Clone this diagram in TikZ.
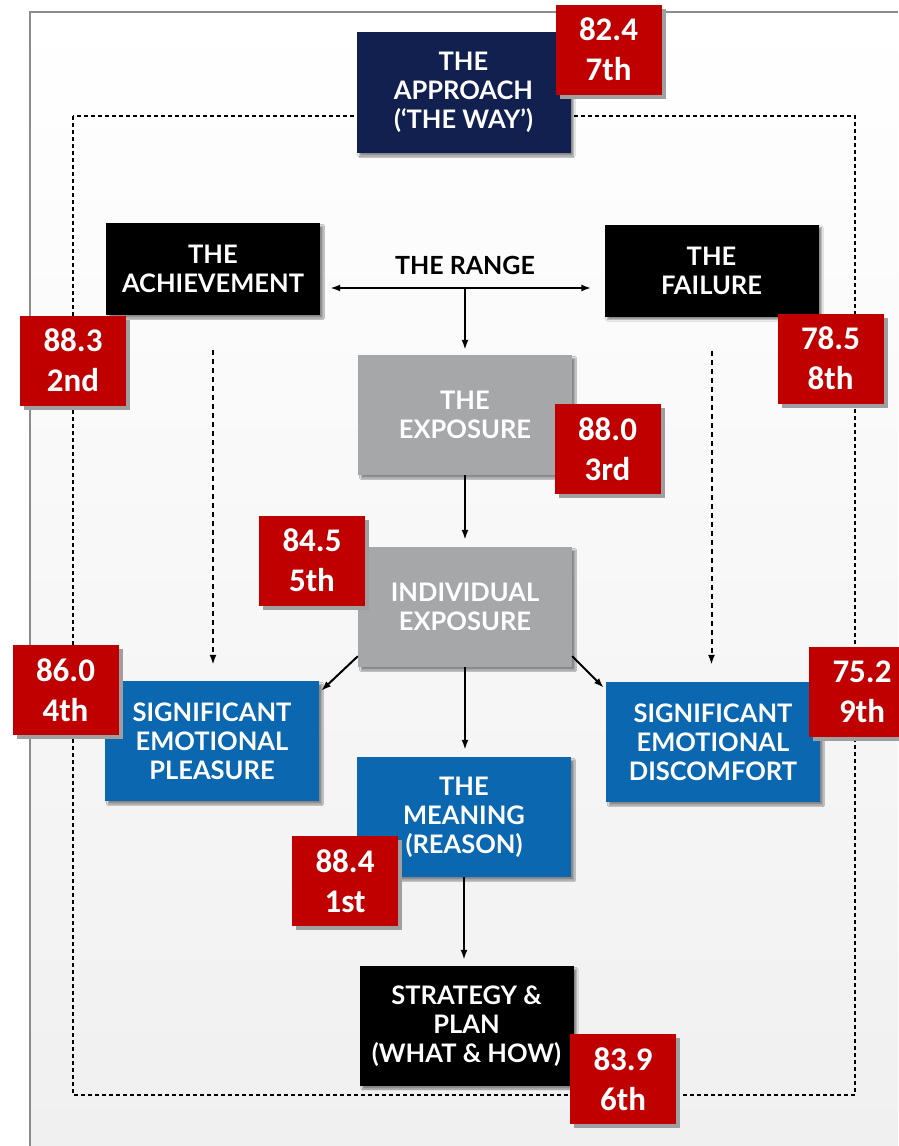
\documentclass[tikz,border=0pt]{standalone}
\usepackage{fontspec}
\usetikzlibrary{arrows.meta,calc,shadows,shadows.blur}
\newfontfamily\boxfont{Lato}
\newfontfamily\badgefont{Carlito}
\definecolor{navy}{HTML}{12204F}
\definecolor{stone}{HTML}{A6A7A9}
\definecolor{azure}{HTML}{0A67B0}
\definecolor{scorered}{HTML}{C00000}
\definecolor{bgmid}{HTML}{D9DADD}
\definecolor{bgbot}{HTML}{F0F0F0}
\definecolor{frameline}{HTML}{8C8C8C}
\tikzset{
  stage/.style={fill=#1,minimum width=214pt,minimum height=120pt,inner sep=0pt,align=center,text=white,
    font=\boxfont\bfseries\fontsize{25.5}{29}\selectfont,
    blur shadow={shadow xshift=3pt,shadow yshift=-3pt,shadow blur steps=4,shadow opacity=45}},
  badge/.style={fill=scorered,minimum width=106pt,minimum height=90pt,inner sep=0pt,align=center,text=white,
    font=\badgefont\bfseries\fontsize{33}{40}\selectfont,
    drop shadow={shadow xshift=4pt,shadow yshift=-4pt,fill=gray!75,opacity=1}},
  flow/.style={-{Latex[length=10pt,width=7pt]},line width=2pt,draw=black},
  biflow/.style={{Latex[length=10pt,width=7pt]}-{Latex[length=10pt,width=7pt]},line width=2pt,draw=black},
  softflow/.style={-{Latex[length=10pt,width=7pt]},line width=2pt,draw=black,dash pattern=on 5pt off 4pt},
  outline/.style={draw=black,line width=1.5pt,dash pattern=on 4pt off 3pt}
}
\begin{document}
\begin{tikzpicture}[x=1pt,y=-1pt]
  \useasboundingbox (0,0) rectangle (898,1146);
  \fill[white] (0,0) rectangle (898,1146);
  \shade[top color=white,middle color=bgmid,bottom color=bgbot] (30,12) rectangle (898,1146);
  \draw[frameline,line width=1.5pt] (30,1146) -- (30,12) -- (898,12);
  \draw[outline] (73,116) rectangle (855,1095);

  % stages
  \node[stage=navy,minimum height=121pt] (approach) at (463.5,92.5) {THE\\APPROACH\\(‘THE WAY’)};
  \node[stage=black,minimum height=92pt] (achieve) at (213,269) {THE\\ACHIEVEMENT};
  \node[stage=black,minimum height=92pt] (failure) at (711.5,270.5) {THE\\FAILURE};
  \node[font=\boxfont\bfseries\fontsize{25}{26}\selectfont] (range) at (465,265) {THE RANGE};
  \coordinate (rangej) at (465,288);
  \node[stage=stone] (exposure) at (465,415) {THE\\EXPOSURE};
  \node[stage=stone] (indiv) at (465,607) {INDIVIDUAL\\EXPOSURE};
  \node[stage=azure] (pleasure) at (212,741) {SIGNIFICANT\\EMOTIONAL\\PLEASURE};
  \node[stage=azure] (discomfort) at (713,742) {SIGNIFICANT\\EMOTIONAL\\DISCOMFORT};
  \node[stage=azure] (meaning) at (464,817) {THE\\MEANING\\(REASON)};
  \node[stage=black] (strategy) at (466.5,1026) {STRATEGY \&\\PLAN\\(WHAT \& HOW)};

  % connectors
  \draw[biflow] ([xshift=10pt]achieve.east |- rangej) -- ([xshift=-13pt]failure.west |- rangej);
  \draw[flow,shorten >=5pt] (rangej) -- (exposure.north);
  \draw[flow,shorten >=7pt] (exposure.south) -- (indiv.north);
  \draw[softflow,shorten <=35pt,shorten >=16pt] (achieve.south) -- (achieve.south |- pleasure.north);
  \draw[softflow,shorten <=34pt,shorten >=17pt] (failure.south) -- (failure.south |- discomfort.north);
  \draw[flow] ($(indiv.south west)+(0,-11)$) -- ($(pleasure.north east)+(2,10)$);
  \draw[flow] ($(indiv.south east)+(0,-11)$) -- ($(discomfort.north west)+(-2,6)$);
  \draw[flow,shorten >=7pt] (indiv.south) -- (indiv.south |- meaning.north);
  \draw[flow,shorten >=6pt] (meaning.south) -- (meaning.south |- strategy.north);

  % scores
  \node[badge] (b7) at (608.5,49.5) {82.4\\7th};
  \node[badge] (b2) at (73,360.5) {88.3\\2nd};
  \node[badge] (b8) at (830.5,358.5) {78.5\\8th};
  \node[badge] (b3) at (607.5,449) {88.0\\3rd};
  \node[badge] (b5) at (312,560.5) {84.5\\5th};
  \node[badge] (b4) at (65.5,690) {86.0\\4th};
  \node[badge] (b9) at (862,692) {75.2\\9th};
  \node[badge] (b1) at (345,881) {88.4\\1st};
  \node[badge] (b6) at (623,1079) {83.9\\6th};
\end{tikzpicture}
\end{document}
